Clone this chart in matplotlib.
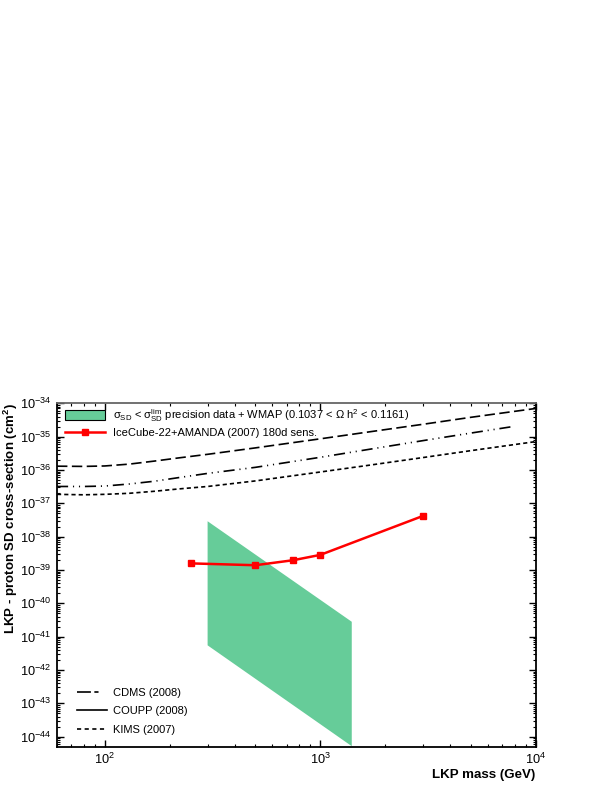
import matplotlib
matplotlib.use('Agg')
import matplotlib.pyplot as plt
from matplotlib.patches import Patch
from matplotlib.lines import Line2D
from matplotlib.ticker import LogLocator, NullFormatter, FixedLocator

plt.rcParams['font.family'] = ['Liberation Sans', 'DejaVu Sans']
plt.rcParams['mathtext.fontset'] = 'custom'
plt.rcParams['mathtext.rm'] = 'Liberation Sans'
plt.rcParams['mathtext.it'] = 'Liberation Sans:italic'
plt.rcParams['mathtext.bf'] = 'Liberation Sans:bold'
plt.rcParams['axes.unicode_minus'] = False
plt.rcParams['lines.scale_dashes'] = False

# ---- data ----
mass_lim = [60, 80, 100, 130, 170, 220, 300, 500, 1000, 1700, 3000, 5000, 10000]
cdms_sigma = [1.3e-36, 1.28e-36, 1.32e-36, 1.5e-36, 1.85e-36, 2.3e-36, 2.95e-36,
              4.6e-36, 8.6e-36, 1.4e-35, 2.35e-35, 3.8e-35, 7.0e-35]
coupp_mass = [60, 80, 100, 130, 170, 220, 300, 500, 1000, 1700, 3000, 5000, 8000]
coupp_sigma = [3.2e-37, 3.2e-37, 3.3e-37, 3.8e-37, 4.6e-37, 5.9e-37, 7.9e-37,
               1.2e-36, 2.4e-36, 4.2e-36, 7.6e-36, 1.28e-35, 2.05e-35]
kims_sigma = [1.86e-37, 1.8e-37, 1.86e-37, 2.0e-37, 2.3e-37, 2.7e-37, 3.2e-37,
              4.7e-37, 8.7e-37, 1.4e-36, 2.36e-36, 3.8e-36, 7.1e-36]

band_mass = [300, 1400, 1400, 300]
band_sigma = [2.9e-38, 2.8e-41, 5.2e-45, 5.5e-42]

icecube_mass = [250, 500, 750, 1000, 3000]
icecube_sigma = [1.58e-39, 1.39e-39, 1.97e-39, 2.84e-39, 4.2e-38]

x_ticks = [1e2, 1e3, 1e4]
y_ticks = [10.0 ** e for e in range(-44, -33)]

band_label = r"σ$_{\rm SD}$ < σ$_{\rm SD}^{\rm lim}$ precision data + WMAP (0.1037 < Ω h$^2$ < 0.1161)"
icecube_label = "IceCube-22+AMANDA (2007) 180d sens."
exp_labels = ["CDMS (2008)", "COUPP (2008)", "KIMS (2007)"]

green = '#66CC99'
red = '#FF0000'

fig = plt.figure(figsize=(6.09, 7.88), dpi=100)
ax = fig.add_axes([0.0936, 0.0524, 0.7861, 0.4358])

ax.fill(band_mass, band_sigma, color=green, lw=0, zorder=1)
ax.plot(mass_lim, cdms_sigma, color='black', lw=1.2, dashes=(7.5, 3.2), zorder=2)
ax.plot(coupp_mass, coupp_sigma, color='black', lw=1.2,
        dashes=(8, 3.5, 0.8, 3.5, 0.8, 3.5), zorder=2)
ax.plot(mass_lim, kims_sigma, color='black', lw=1.2, dashes=(3, 2.2), zorder=2)
ax.plot(icecube_mass, icecube_sigma, color=red, lw=1.8, marker='s', ms=4.5,
        zorder=3)

ax.set_xscale('log')
ax.set_yscale('log')
ax.set_xlim(60, 1e4)
ax.set_ylim(10**-44.3, 1e-34)

ax.xaxis.set_major_locator(FixedLocator(x_ticks))
ax.xaxis.set_minor_locator(LogLocator(base=10, subs=range(2, 10), numticks=20))
ax.xaxis.set_minor_formatter(NullFormatter())
ax.yaxis.set_major_locator(FixedLocator(y_ticks))
ax.yaxis.set_minor_locator(LogLocator(base=10, subs=range(2, 10), numticks=40))
ax.yaxis.set_minor_formatter(NullFormatter())

ax.tick_params(which='both', direction='in', top=True, right=True, labelsize=9.2)
ax.tick_params(which='major', length=5, width=1.0, pad=4)
ax.tick_params(which='minor', length=2.5, width=0.8)

for s in ax.spines.values():
    s.set_linewidth(1.3)
    s.set_color('black')
ax.spines['top'].set_color('#666666')

ax.set_xlabel("LKP mass (GeV)", fontsize=9.6, fontweight='bold', loc='right',
              labelpad=1)
ax.set_ylabel("LKP - proton SD cross-section (cm$^{\\bf 2}$)", fontsize=9.5,
              fontweight='bold')
ax.yaxis.set_label_coords(-0.077, 0.665)

h1 = Patch(facecolor=green, edgecolor='black', linewidth=0.8)
h2 = Line2D([], [], color=red, lw=1.8, marker='s', ms=4.5)
leg1 = ax.legend([h1, h2], [band_label, icecube_label], loc='upper left',
                 bbox_to_anchor=(0.0, 1.012), frameon=False, fontsize=8,
                 handlelength=3.6, handleheight=0.9, handletextpad=0.7,
                 labelspacing=0.35, borderaxespad=0.3)
ax.add_artist(leg1)

p1 = Line2D([], [], color='black', lw=1.2, dashes=(10, 2.5, 3, 10))
p2 = Line2D([], [], color='black', lw=1.2)
p3 = Line2D([], [], color='black', lw=1.2, dashes=(3, 2.5))
ax.legend([p1, p2, p3], exp_labels, loc='lower left',
          bbox_to_anchor=(0.02, 0.006), frameon=False, fontsize=8,
          handlelength=2.7, handletextpad=0.6, labelspacing=0.75)

fig.savefig('out.png', dpi=100)
